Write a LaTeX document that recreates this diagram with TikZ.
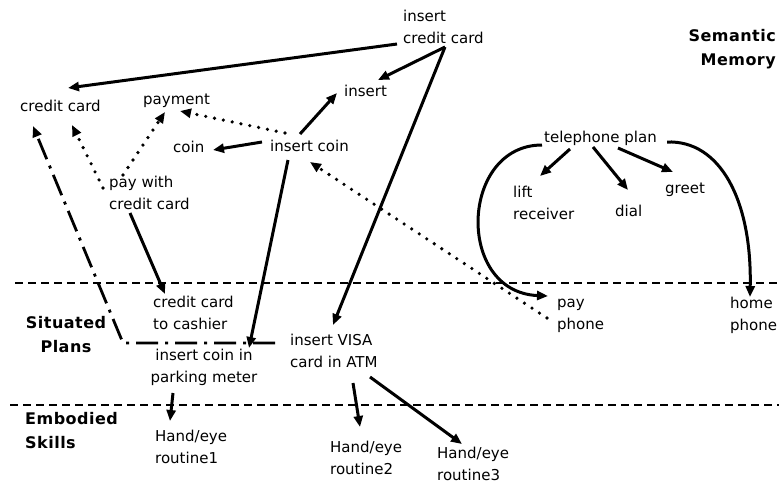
\documentclass[tikz,border=0pt]{standalone}
\usepackage{fontspec}
\setmainfont{DejaVu Sans}
\newfontfamily\layerfont[LetterSpace=3]{DejaVu Sans Bold}
\usetikzlibrary{arrows.meta}
\begin{document}
\begin{tikzpicture}[x=1pt,y=-1pt,
  lbl/.style={inner sep=0pt, anchor=west, align=left,
    font=\fontsize{15}{22}\selectfont,
    execute at begin node=\strut, execute at end node=\strut},
  layer/.style={inner sep=0pt, font=\layerfont\fontsize{16}{24}\selectfont,
    execute at begin node=\strut, execute at end node=\strut},
  tip/.style={-{Triangle[length=11pt,width=9pt]}},
  arr/.style={tip, line width=3pt},
  dotarr/.style={tip, line width=3.6pt, line cap=round, dash pattern=on 0pt off 9pt},
  dashdot/.style={line width=2.8pt, dash pattern=on 22pt off 7pt on 3pt off 7pt,
    -{Triangle[length=11pt,width=9pt]}},
  level/.style={line width=2.8pt, dash pattern=on 8pt off 5pt}]
\useasboundingbox (0,0) rectangle (779,483);

% layer boundaries
\draw[level] (15,283) -- (779,283);
\draw[level] (10,405) -- (779,405);

% layer titles
\node[layer, anchor=east, align=right] (sem) at (776,51) {Semantic\\Memory};
\node[layer, align=center] (sit) at (66,338) {Situated\\Plans};
\node[layer, anchor=west, align=left] (emb) at (25,434) {Embodied\\Skills};

% semantic memory
\node[lbl] (icc) at (403,30) {insert\\credit card};
\node[lbl] (cc) at (20,107) {credit card};
\node[lbl] (pay) at (143,100) {payment};
\node[lbl] (ins) at (344,92) {insert};
\node[lbl] (coin) at (173,148) {coin};
\node[lbl] (ic) at (270,147) {insert coin};
\node[lbl] (pwcc) at (109,196) {pay with\\credit card};
\node[lbl] (tel) at (544,138) {telephone plan};
\node[lbl] (lift) at (513,206) {lift\\receiver};
\node[lbl] (dial) at (615,212) {dial};
\node[lbl] (greet) at (665,189) {greet};

% situated plans
\node[lbl] (pphone) at (557,318) {pay\\phone};
\node[lbl] (hphone) at (730,317) {home\\phone};
\node[lbl] (cccash) at (153,316) {credit card\\to cashier};
\node[lbl, anchor=center, align=center] (icpm) at (204,369) {insert coin in\\parking meter};
\node[lbl] (ivisa) at (290,354) {insert VISA\\card in ATM};

% embodied skills
\node[lbl] (he1) at (155,450) {Hand/eye\\routine1};
\node[lbl] (he2) at (330,461) {Hand/eye\\routine2};
\node[lbl] (he3) at (437,467) {Hand/eye\\routine3};

% solid links
\draw[arr] ([shift={(-6,14)}]icc.west) -- ([shift={(48,-19)}]cc.west);
\draw[arr] ([shift={(42,17)}]icc.west) -- ([shift={(34,-12)}]ins.west);
\draw[arr] ([shift={(42,17)}]icc.west) -- ([shift={(43,-29)}]ivisa.west);
\draw[arr] ([shift={(30,-13)}]ic.west) -- ([shift={(-7,1)}]ins.west);
\draw[arr] ([shift={(-8,-5)}]ic.west) -- ([shift={(40,2)}]coin.west);
\draw[arr] ([shift={(18,13)}]ic.west) -- ([shift={(45,-21)}]icpm.center);
\draw[arr] ([shift={(21,17)}]pwcc.west) -- ([shift={(12,-22)}]cccash.west);
\draw[arr] ([shift={(26,11)}]tel.west) -- ([shift={(27,-30)}]lift.west);
\draw[arr] ([shift={(49,9)}]tel.west) -- ([shift={(13,-22)}]dial.west);
\draw[arr] ([shift={(74,10)}]tel.west) -- ([shift={(8,-17)}]greet.west);
\draw[arr] ([shift={(-2,7)}]tel.west) .. controls +(-82,0) and +(-93,-4) .. ([shift={(-9,-22)}]pphone.west);
\draw[arr] ([shift={(123,4)}]tel.west) .. controls +(53,-2) and +(2,-97) .. ([shift={(20,-20)}]hphone.west);
\draw[arr] ([shift={(63,29)}]ivisa.west) -- ([shift={(30,-34)}]he2.west);
\draw[arr] ([shift={(80,23)}]ivisa.west) -- ([shift={(25,-23)}]he3.west);
\draw[arr] ([shift={(-31,24)}]icpm.center) -- ([shift={(15,-29)}]he1.west);

% dotted links
\draw[dotarr] ([shift={(15,-14)}]ic.west) -- ([shift={(37,11)}]pay.west);
\draw[dotarr] ([shift={(14,-21)}]pwcc.west) -- ([shift={(22,12)}]pay.west);
\draw[dotarr] ([shift={(-6,-8)}]pwcc.west) -- ([shift={(52,18)}]cc.west);
\draw[dotarr] ([shift={(-10,0)}]pphone.west) -- ([shift={(40,15)}]ic.west);

% dash-dot link
\draw[dashdot] ([shift={(-15,-11)}]ivisa.west) -- ++(-152,0) -- ([shift={(13,19)}]cc.west);
\end{tikzpicture}
\end{document}
